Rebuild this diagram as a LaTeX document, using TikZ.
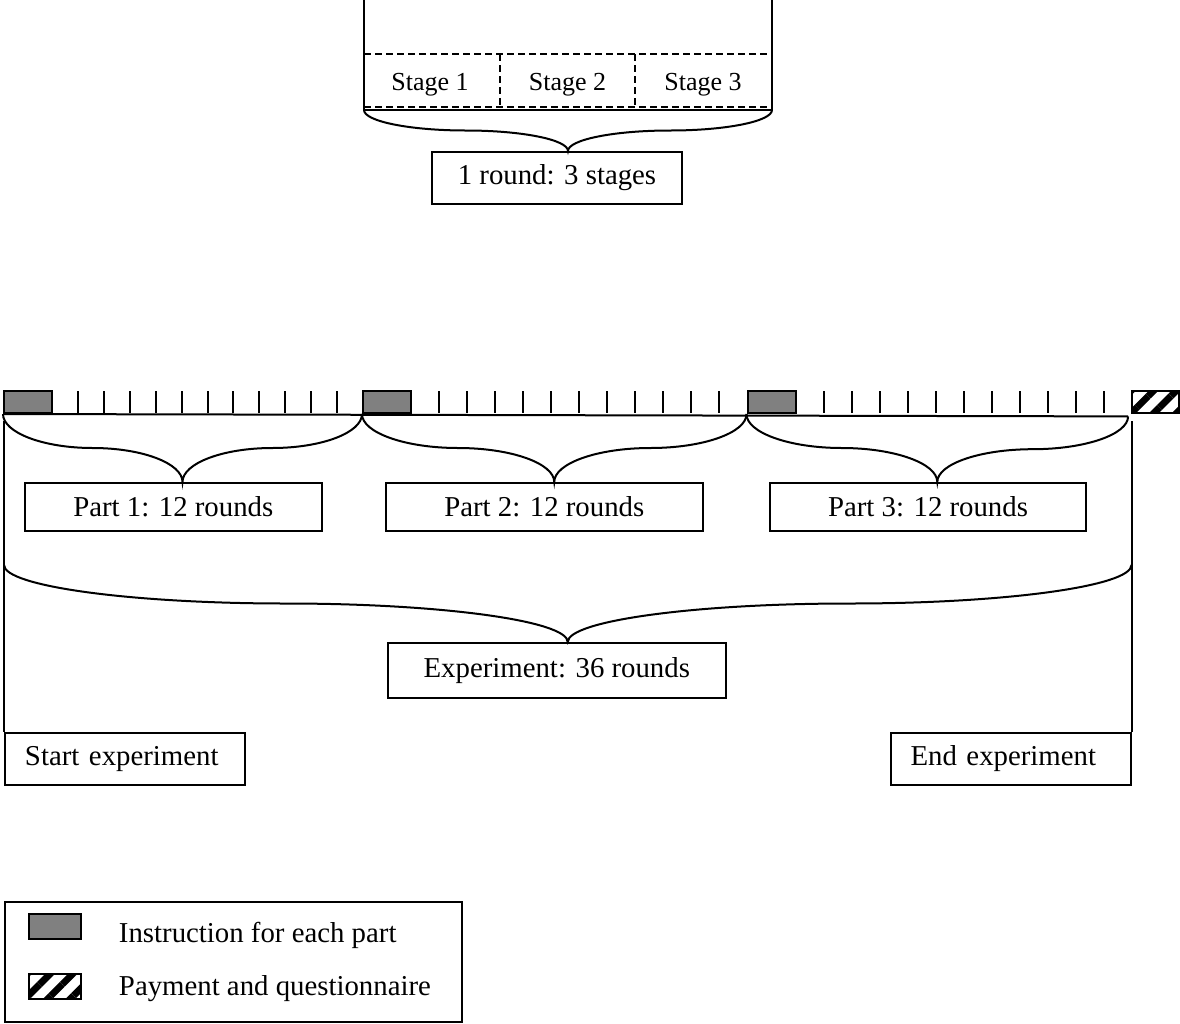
\documentclass[tikz,border=0pt]{standalone}
\usepackage{fontspec}
\setmainfont{Liberation Serif}
\usetikzlibrary{calc,patterns.meta}

\definecolor{instrgray}{RGB}{128,128,128}

% curly brace from #1 to #2, tip on top of node #3
\newcommand{\curlybrace}[3]{%
    \coordinate (bm) at ($(#1)!0.5!(#2)$);
    \coordinate (bt) at (bm |- #3.north);
    \coordinate (bl) at ($(#1)!0.5!(bt)$);
    \coordinate (br) at ($(#2)!0.5!(bt)$);
    \draw (#1) .. controls ($(#1)!0.55!(#1 |- bl)$) and ($(bl)!0.55!(#1 |- bl)$) .. (bl)
        .. controls ($(bl)!0.55!(bl -| bt)$) and ($(bt)!0.55!(bl -| bt)$) .. (bt)
        .. controls ($(bt)!0.55!(br -| bt)$) and ($(br)!0.55!(br -| bt)$) .. (br)
        .. controls ($(br)!0.55!(#2 |- br)$) and ($(#2)!0.55!(#2 |- br)$) .. (#2);}

\begin{document}
\begin{tikzpicture}[x=0.5pt,y=-0.5pt,line width=1pt,
        txt/.style={font=\fontsize{14.4}{17}\selectfont},
        box/.style={draw,txt,inner sep=0pt},
        endbox/.style={box,minimum height=26pt,text width=100pt,inner xsep=10pt,align=left},
        instr/.style={draw,fill=instrgray,inner sep=0pt,minimum width=24pt,minimum height=11pt},
        paybox/.style={draw,pattern={Lines[angle=45,distance=8pt,line width=3.4pt]},inner sep=0pt,minimum width=23.5pt,minimum height=11pt},
        stageline/.style={dash pattern=on 3.5pt off 2pt},
        stagetext/.style={font=\fontsize{13}{15}\selectfont}]
    	
    	\useasboundingbox (0,0) rectangle (1180,1024);
    	
    	% one round
    	\coordinate (rl) at (364,110);
    	\coordinate (rr) at (772,110);
    	\draw (364,0) -- (rl) -- (rr) -- (772,0);
    	\draw[stageline] (364,54) -- (772,54);
    	\draw[stageline] (364,107) -- (772,107);
    	\draw[stageline] (500,54) -- (500,107);
    	\draw[stageline] (635,54) -- (635,107);
    	\node[stagetext,anchor=base] (s1) at (430,90.5)   {Stage 1};
    	\node[stagetext,anchor=base] (s2) at (567.5,90.5) {Stage 2};
    	\node[stagetext,anchor=base] (s3) at (703,90.5)   {Stage 3};
    	\node[box,minimum width=125.3pt,minimum height=26pt] (round) at (557,178) {1 round: 3 stages};
    	\curlybrace{rl}{rr}{round}
    	
    	% time line
    	\node[instr]  (g1)  at (28,402)    {};
    	\node[instr]  (g2)  at (387,402)   {};
    	\node[instr]  (g3)  at (771.5,402) {};
    	\node[paybox] (pay) at (1155,402)  {};
    	\draw (g1.south west) -- (pay.south west);
    	\foreach \a/\b in {52/363, 411/747.5, 795.5/1131.5}
    	    \foreach \k in {1,...,11}
    	        \draw ({\a+\k*(\b-\a)/12},391) -- ++(0,22);
    	
    	% parts
    	\node[box,minimum width=148.3pt,minimum height=24pt] (p1) at (173.3,507) {Part 1: 12 rounds};
    	\node[box,minimum width=158.3pt,minimum height=24pt] (p2) at (544.3,507) {Part 2: 12 rounds};
    	\node[box,minimum width=158pt,minimum height=24pt]   (p3) at (928,507)   {Part 3: 12 rounds};
    	\curlybrace{g1.south west}{g2.south west}{p1}
    	\curlybrace{g2.south west}{g3.south west}{p2}
    	\curlybrace{g3.south west}{pay.south west}{p3}
    	
    	% whole experiment
    	\node[box,minimum width=169.3pt,minimum height=27.5pt] (exp) at (556.8,670.5) {Experiment: 36 rounds};
    	\node[endbox,anchor=north west] (startexp) at (4,732)      {Start experiment};
    	\node[endbox,anchor=north east] (endexp)   at (1131.5,732) {End experiment};
    	\coordinate (sl) at (4,421);
    	\coordinate (el) at (1131.5,421);
    	\draw (sl) -- (startexp.north west);
    	\draw (el) -- (endexp.north east);
    	\coordinate (bigl) at (4,565);
    	\coordinate (bigr) at (1131.5,565);
    	\curlybrace{bigl}{bigr}{exp}
    	
    	% legend
    	\node[draw,inner sep=0pt,minimum width=228.5pt,minimum height=60pt,anchor=north west] (legend) at (4,901) {};
    	\node[instr,minimum width=26pt,minimum height=12.5pt]  (lgray)  at (55,926.5) {};
    	\node[paybox,minimum width=26pt,minimum height=12.5pt] (lhatch) at (55,986.5) {};
    	\node[txt,anchor=base west,inner sep=0pt] (ltext1) at (118,942) {Instruction for each part};
    	\node[txt,anchor=base west,inner sep=0pt] (ltext2) at (118,995) {Payment and questionnaire};
    	
\end{tikzpicture}
\end{document}
